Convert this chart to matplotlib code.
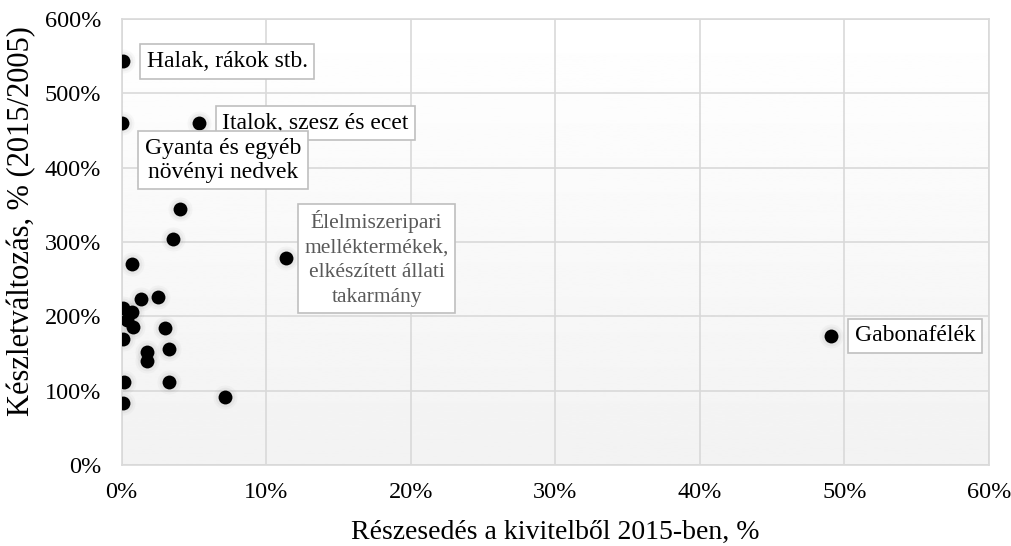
import numpy as np
import matplotlib
matplotlib.use("Agg")
import matplotlib.pyplot as plt
from matplotlib.ticker import PercentFormatter, MultipleLocator

plt.rcParams['font.family'] = ['Liberation Serif', 'DejaVu Serif']

# share of exports 2015 (%) and stock change 2015/2005 (%)
share = [0.07, 0.0, 5.37, 4.05, 3.58, 11.34, 49.07,
         0.69, 1.32, 2.52, 0.07, 0.69, 0.35, 0.81, 3.0, 0.07,
         1.74, 3.28, 1.74, 0.16, 3.24, 0.07, 7.17]
change = [543, 460, 460, 344, 304, 278, 174,
          270, 224, 226, 211, 206, 195, 185, 184, 169,
          152, 156, 140, 111, 111, 84, 91]

# labelled points: (index, text, offset px, ha, colour, size, line spacing)
labels = [
    (0, "Halak, rákok stb.", (24, 0), 'left', 'black', 17, 1.0),
    (2, "Italok, szesz és ecet", (23, 0), 'left', 'black', 17, 1.0),
    (1, "Gyanta és egyéb\nnövényi nedvek", (101, -37), 'center', 'black', 17, 1.2),
    (5, "Élelmiszeripari\nmelléktermékek,\nelkészített állati\ntakarmány", (91, 0), 'center', '#595959', 15.5, 1.4),
    (6, "Gabonafélék", (24, 0), 'left', 'black', 17, 1.0),
]

fig = plt.figure(figsize=(10.11, 5.46), dpi=100)
ax = fig.add_axes([0.1204, 0.1484, 0.8576, 0.8166])

# soft vertical gradient in the plot area
grad = np.linspace(0.95, 1.0, 256).reshape(-1, 1)
ax.imshow(grad, extent=[0, 1, 0, 1], transform=ax.transAxes, aspect='auto',
          cmap='gray', vmin=0, vmax=1, origin='lower', zorder=0)

ax.set_xlim(0, 60)
ax.set_ylim(0, 600)
ax.xaxis.set_major_locator(MultipleLocator(10))
ax.yaxis.set_major_locator(MultipleLocator(100))
ax.xaxis.set_major_formatter(PercentFormatter(decimals=0))
ax.yaxis.set_major_formatter(PercentFormatter(decimals=0))
ax.grid(True, color='#d9d9d9', linewidth=1.2, zorder=1)
ax.set_axisbelow(True)
for s in ax.spines.values():
    s.set_color('#d9d9d9')
    s.set_linewidth(1.2)
ax.tick_params(length=0, labelsize=17.5, colors='black')
ax.tick_params(axis='x', pad=12)
ax.tick_params(axis='y', pad=15)

# shadow + dots
ax.scatter(share, change, s=300, color='gray', alpha=0.05, linewidths=0, zorder=2)
ax.scatter(share, change, s=200, color='gray', alpha=0.08, linewidths=0, zorder=2)
ax.scatter(share, change, s=100, color='black', linewidths=0, zorder=3)

for i, txt, off, ha, col, fs, ls in labels:
    ax.annotate(txt, xy=(share[i], change[i]), xytext=off, textcoords='offset pixels',
                ha=ha, va='center', multialignment='center', fontsize=fs, color=col,
                linespacing=ls, zorder=4,
                bbox=dict(boxstyle='square,pad=0.28', fc='white', ec='#bfbfbf', lw=1.2))

fig.text(555 / 1011, 1 - 532 / 546, "Részesedés a kivitelből 2015-ben, %",
         fontsize=20, ha='center', va='center')
fig.text(22 / 1011, 1 - 221 / 546, "Készletváltozás, % (2015/2005)",
         fontsize=22, rotation=90, ha='center', va='center')

fig.savefig("out.png", dpi=100)
